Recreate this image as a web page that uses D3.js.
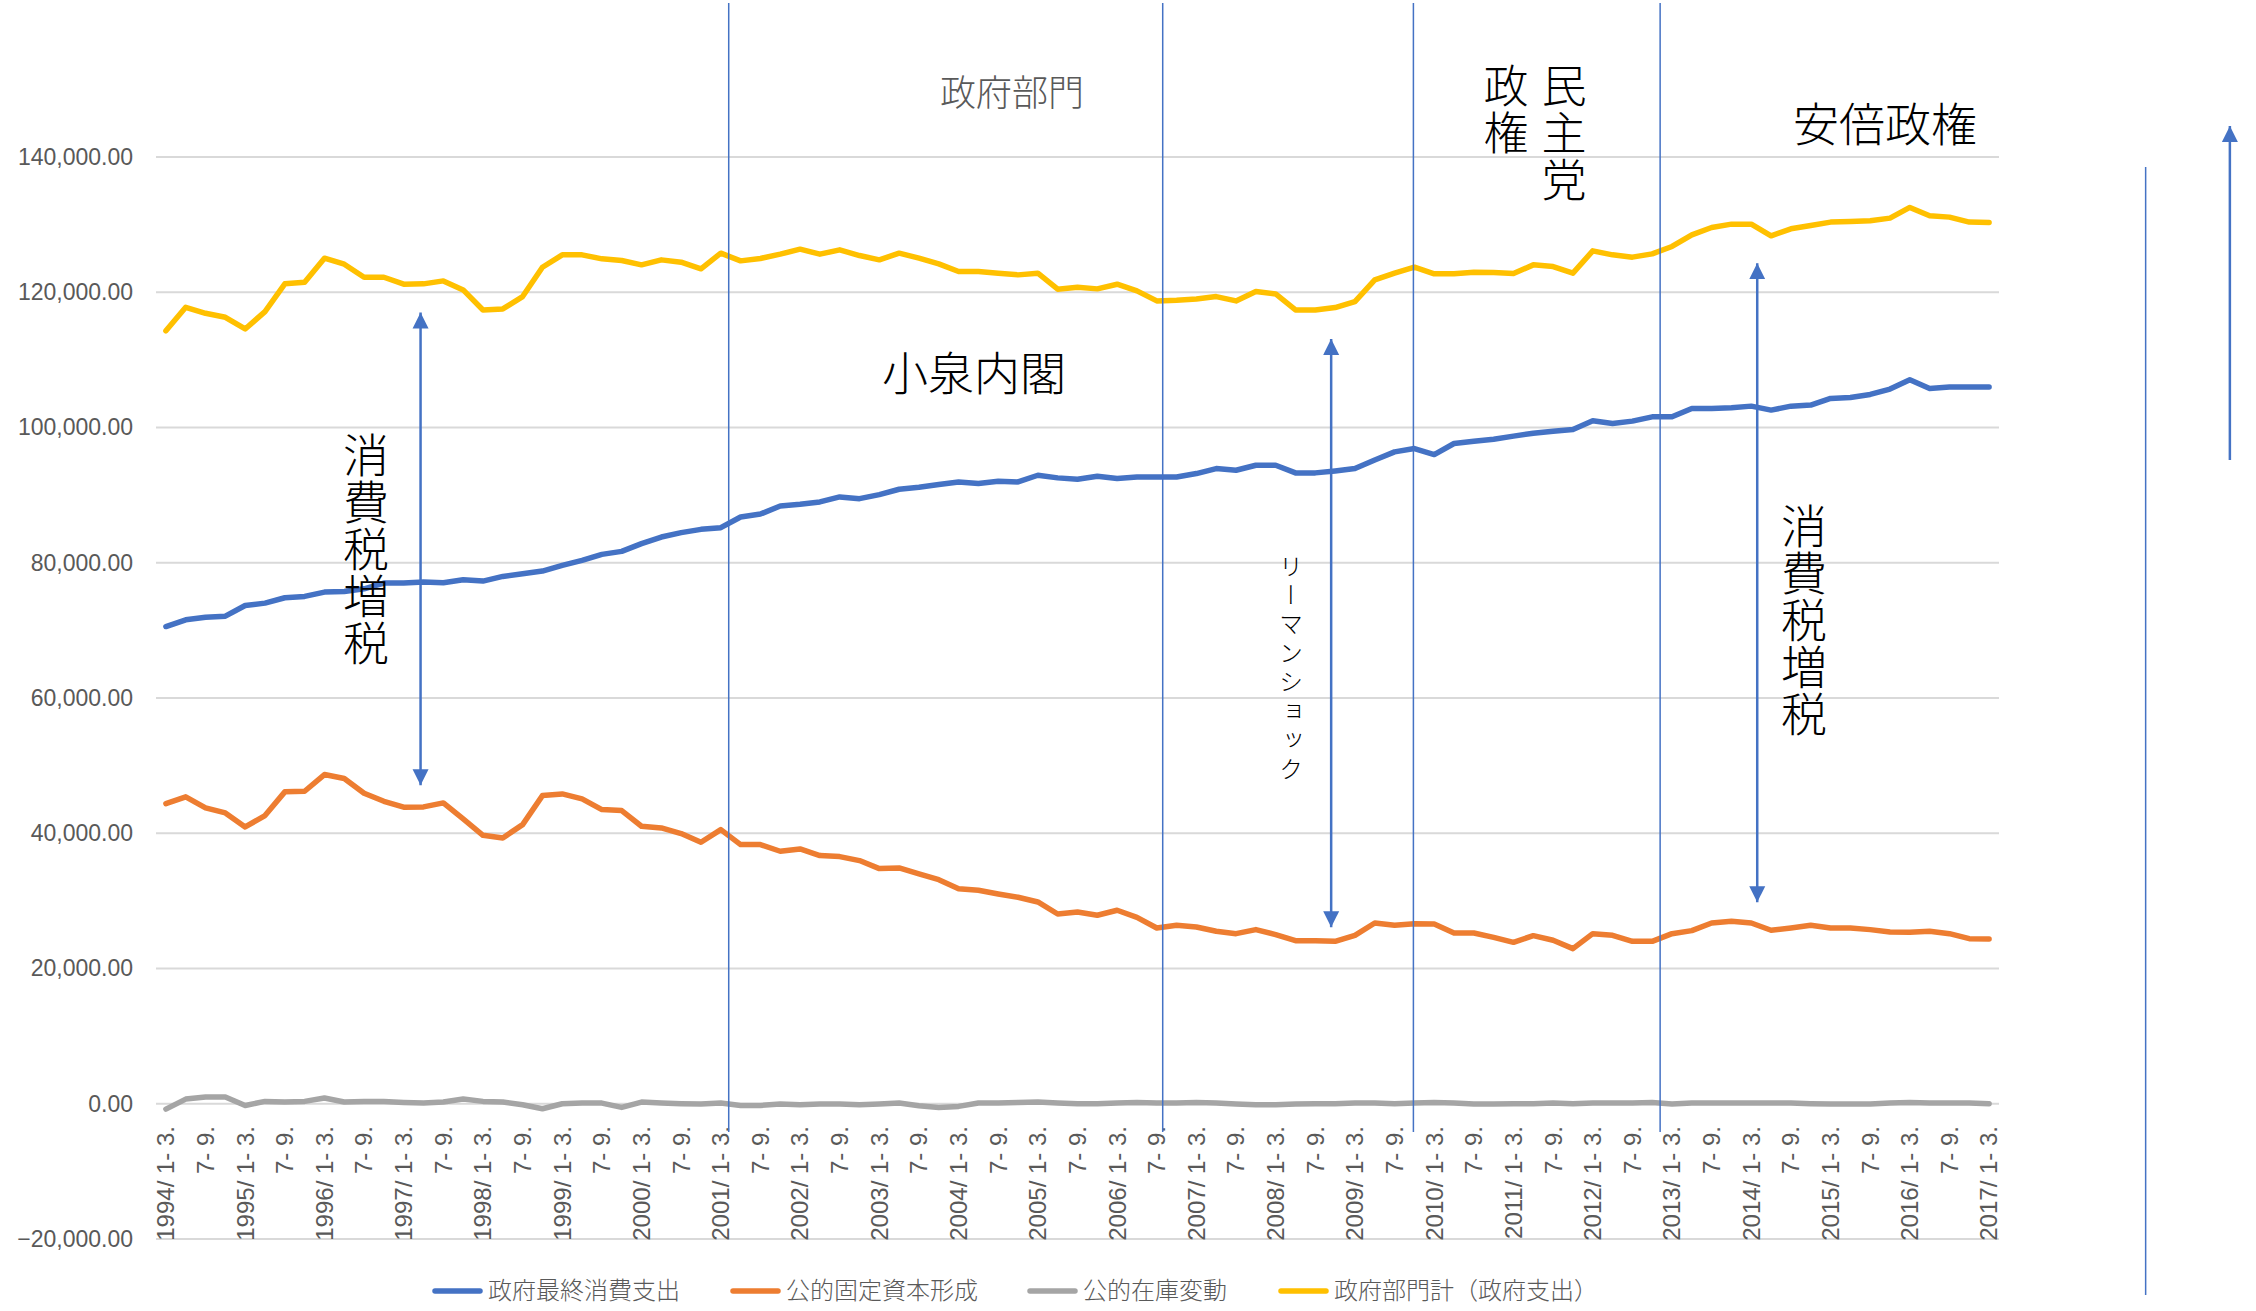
<!DOCTYPE html>
<html>
<head>
<meta charset="utf-8">
<script src="https://cdn.jsdelivr.net/npm/d3@7"></script>
<style>
  body { margin: 0; background: #fff; }
  svg { display: block; }
</style>
</head>
<body>
<div id="chart"></div>
<script>
// 政府部門 - quarterly data 1994 Q1 .. 2017 Q1

// Years and quarter names used for the category labels
let years = [1994, 1995, 1996, 1997, 1998, 1999, 2000, 2001, 2002, 2003, 2004, 2005,
             2006, 2007, 2008, 2009, 2010, 2011, 2012, 2013, 2014, 2015, 2016, 2017];
let quarterNames = ['1- 3.', '4- 6.', '7- 9.', '10-12.'];

// 政府最終消費支出
let govConsumption = [
    70570, 71560, 71950, 72100, 73680, 74030, 74820, 75020, 75660, 75760, 76150, 76990,
    76990, 77140, 77040, 77480, 77290, 77980, 78370, 78770, 79610, 80350, 81240, 81680,
    82820, 83800, 84450, 84940, 85190, 86770, 87200, 88400, 88640, 88990, 89730, 89480,
    90080, 90870, 91160, 91560, 91950, 91710, 92050, 91950, 92940, 92550, 92350, 92790,
    92450, 92690, 92690, 92690, 93190, 93930, 93680, 94420, 94420, 93290, 93290, 93580,
    93930, 95200, 96390, 96890, 96000, 97630, 97980, 98270, 98720, 99160, 99460, 99710,
    100990, 100600, 100940, 101580, 101580, 102820, 102820, 102920, 103160, 102570, 103160, 103310,
    104300, 104450, 104890, 105680, 107060, 105780, 105980, 105980, 105980
];

// 公的固定資本形成
let publicInvestment = [
    44390, 45380, 43750, 43010, 40940, 42610, 46120, 46210, 48680, 48090, 45920, 44730,
    43850, 43900, 44490, 42120, 39700, 39310, 41280, 45570, 45820, 45080, 43500, 43350,
    41040, 40790, 39950, 38670, 40540, 38320, 38320, 37340, 37680, 36700, 36550, 35960,
    34770, 34870, 33980, 33140, 31810, 31570, 31020, 30530, 29840, 28060, 28360, 27870,
    28610, 27570, 25990, 26390, 26140, 25500, 25150, 25750, 25010, 24120, 24120, 24020,
    24910, 26730, 26390, 26630, 26580, 25250, 25250, 24610, 23870, 24860, 24170, 22940,
    25150, 24910, 24020, 24020, 25150, 25600, 26730, 26980, 26730, 25650, 25990, 26390,
    25990, 25990, 25750, 25400, 25350, 25500, 25150, 24410, 24370
];

// 公的在庫変動
let publicInventory = [
    -790, 690, 990, 990, -250, 350, 250, 350, 840, 250, 350, 350,
    200, 100, 250, 690, 350, 250, -150, -740, 0, 100, 100, -540,
    250, 100, 0, -50, 100, -250, -250, -50, -150, -50, -50, -150,
    -50, 100, -300, -540, -390, 100, 100, 200, 250, 100, 0, 0,
    100, 200, 100, 100, 200, 100, -50, -150, -150, -50, 0, 0,
    100, 100, 0, 100, 200, 100, -50, -50, 0, 0, 100, 0,
    100, 100, 100, 200, -50, 100, 100, 100, 100, 100, 100, 0,
    -50, -50, -50, 100, 200, 100, 100, 100, 0
];

// 政府部門計（政府支出）
let govTotal = [
    114300, 117780, 116890, 116300, 114570, 117140, 121240, 121480, 125040, 124150, 122220, 122220,
    121190, 121240, 121680, 120350, 117380, 117530, 119360, 123700, 125530, 125530, 124940, 124690,
    124050, 124790, 124440, 123460, 125780, 124640, 125000, 125630, 126370, 125630, 126270, 125430,
    124790, 125780, 125040, 124200, 123060, 123060, 122820, 122570, 122820, 120450, 120740, 120500,
    121190, 120200, 118720, 118820, 119010, 119360, 118720, 120100, 119750, 117380, 117380, 117730,
    118620, 121830, 122820, 123700, 122720, 122720, 122970, 122920, 122770, 124050, 123800, 122820,
    126120, 125530, 125190, 125680, 126770, 128490, 129580, 130070, 130070, 128350, 129380, 129880,
    130370, 130470, 130570, 130960, 132540, 131310, 131110, 130370, 130320
];

let seriesNames = ['政府最終消費支出', '公的固定資本形成', '公的在庫変動', '政府部門計（政府支出）'];
let seriesValues = [govConsumption, publicInvestment, publicInventory, govTotal];
let seriesColors = ['#4472C4', '#ED7D31', '#A5A5A5', '#FFC000'];

// Y axis ticks
let yTicks = [-20000, 0, 20000, 40000, 60000, 80000, 100000, 120000, 140000];

// Annotations (position as quarter index, value)
let periodLines = [28.4, 50.3, 62.95, 75.4];
let arrows = [
    { at: 12.85, top: 117000, bottom: 47100 },
    { at: 58.8, top: 113100, bottom: 26100 },
    { at: 80.3, top: 124300, bottom: 29800 }
];

// Build category labels: "1994/ 1- 3.", "4- 6.", "7- 9.", "10-12.", ...
let categories = [];
years.forEach(function (yr) {
    quarterNames.forEach(function (q, k) {
        if (yr === 2017 && k > 0) return;
        categories.push(k === 0 ? yr + '/ ' + q : q);
    });
});

const W = 2256, H = 1311;

let svg = d3.select('#chart')
    .append('svg')
    .attr('width', W)
    .attr('height', H)
    .style('background', '#fff');

let x = d3.scalePoint()
    .domain(d3.range(categories.length))
    .range([156, 1999])
    .padding(0.5);

// fractional quarter index -> pixel
let xi = function (i) { return x(0) + i * x.step(); };

let y = d3.scaleLinear()
    .domain([-20000, 140000])
    .range([1239, 157]);

// Gridlines
svg.append('g')
    .selectAll('line')
    .data(yTicks)
    .enter().append('line')
    .attr('x1', 156)
    .attr('x2', 1999)
    .attr('y1', function (d) { return y(d); })
    .attr('y2', function (d) { return y(d); })
    .attr('stroke', '#d9d9d9')
    .attr('stroke-width', 2);

// Y axis labels
let yAxis = d3.axisLeft(y)
    .tickValues(yTicks)
    .tickSize(0)
    .tickPadding(0)
    .tickFormat(d3.format(',.2f'));

let gy = svg.append('g')
    .attr('transform', 'translate(133,0)')
    .call(yAxis);
gy.select('.domain').remove();
gy.selectAll('text')
    .attr('fill', '#595959')
    .style('font-family', '"Liberation Sans", Arial, sans-serif')
    .style('font-size', '23px');

// X axis labels (every other quarter, rotated)
let gx = svg.append('g');
gx.selectAll('text')
    .data(categories.map(function (c, i) { return { c: c, i: i }; })
        .filter(function (d) { return d.i % 2 === 0; }))
    .enter().append('text')
    .attr('transform', function (d) {
        return 'translate(' + x(d.i) + ',1126) rotate(-90)';
    })
    .attr('dy', '0.35em')
    .attr('text-anchor', 'end')
    .attr('fill', '#595959')
    .style('font-family', '"Liberation Sans", Arial, sans-serif')
    .style('font-size', '24px')
    .text(function (d) { return d.c; });

// Lines
let line = d3.line()
    .x(function (d, i) { return x(i); })
    .y(function (d) { return y(d); });

svg.append('g')
    .selectAll('path')
    .data(seriesValues)
    .enter().append('path')
    .attr('d', function (d) { return line(d); })
    .attr('fill', 'none')
    .attr('stroke', function (d, i) { return seriesColors[i]; })
    .attr('stroke-width', 5.5)
    .attr('stroke-linejoin', 'round')
    .attr('stroke-linecap', 'round');

// Legend
let legendX = [432, 730, 1027, 1278];
let lg = svg.append('g')
    .selectAll('g')
    .data(seriesNames)
    .enter().append('g')
    .attr('transform', function (d, i) { return 'translate(' + legendX[i] + ',1291)'; });

lg.append('line')
    .attr('x1', 3).attr('x2', 48)
    .attr('stroke', function (d, i) { return seriesColors[i]; })
    .attr('stroke-width', 5.5)
    .attr('stroke-linecap', 'round');

lg.append('text')
    .attr('x', 56)
    .attr('dy', '0.35em')
    .attr('fill', '#595959')
    .style('font-family', '"Noto Sans CJK JP", sans-serif')
    .style('font-weight', 300)
    .style('font-size', '24px')
    .text(function (d) { return d; });

// Annotations
let blue = '#4472C4';
let ann = svg.append('g');

let defs = svg.append('defs');
defs.append('marker')
    .attr('id', 'head')
    .attr('viewBox', '0 0 10 10')
    .attr('refX', 10).attr('refY', 5)
    .attr('markerWidth', 6.4).attr('markerHeight', 7)
    .attr('orient', 'auto-start-reverse')
    .attr('markerUnits', 'strokeWidth')
    .append('path')
    .attr('d', 'M0,0 L10,5 L0,10 z')
    .attr('fill', blue);

// period separator lines
ann.selectAll('line.period')
    .data(periodLines)
    .enter().append('line')
    .attr('class', 'period')
    .attr('x1', function (d) { return xi(d); })
    .attr('x2', function (d) { return xi(d); })
    .attr('y1', 3)
    .attr('y2', 1132)
    .attr('stroke', blue)
    .attr('stroke-width', 1.5);

// double headed arrows
ann.selectAll('line.arrow')
    .data(arrows)
    .enter().append('line')
    .attr('class', 'arrow')
    .attr('x1', function (d) { return xi(d.at); })
    .attr('x2', function (d) { return xi(d.at); })
    .attr('y1', function (d) { return y(d.top); })
    .attr('y2', function (d) { return y(d.bottom); })
    .attr('stroke', blue)
    .attr('stroke-width', 2.5)
    .attr('marker-start', 'url(#head)')
    .attr('marker-end', 'url(#head)');

// lines outside the plot on the right
ann.append('line')
    .attr('x1', xi(99.9)).attr('x2', xi(99.9))
    .attr('y1', 167).attr('y2', 1295)
    .attr('stroke', blue).attr('stroke-width', 1.5);

ann.append('line')
    .attr('x1', xi(104.15)).attr('x2', xi(104.15))
    .attr('y1', 460).attr('y2', 126)
    .attr('stroke', blue).attr('stroke-width', 2.5)
    .attr('marker-end', 'url(#head)');

// texts
let jp = '"Noto Sans CJK JP", sans-serif';

svg.append('text')
    .attr('x', 1012).attr('y', 93)
    .attr('dy', '0.35em')
    .attr('text-anchor', 'middle')
    .attr('fill', '#595959')
    .style('font-family', jp)
    .style('font-weight', 300)
    .style('font-size', '36px')
    .text('政府部門');

svg.append('text')
    .attr('x', 974).attr('y', 374)
    .attr('dy', '0.35em')
    .attr('text-anchor', 'middle')
    .attr('fill', '#000')
    .style('font-family', jp)
    .style('font-weight', 300)
    .style('font-size', '46px')
    .text('小泉内閣');

svg.append('text')
    .attr('x', 1885).attr('y', 125)
    .attr('dy', '0.35em')
    .attr('text-anchor', 'middle')
    .attr('fill', '#000')
    .style('font-family', jp)
    .style('font-weight', 300)
    .style('font-size', '46px')
    .text('安倍政権');

// vertical texts
let vtexts = [
    { t: '消費税増税', x: 366, y: 432, size: 46, sp: 1 },
    { t: '消費税増税', x: 1804, y: 503, size: 46, sp: 1 },
    { t: 'リーマンショック', x: 1291, y: 554, size: 24, sp: 5 },
    { t: '民主党', x: 1564, y: 63, size: 45, sp: 2 },
    { t: '政権', x: 1506, y: 63, size: 45, sp: 2 }
];

svg.append('g')
    .selectAll('text')
    .data(vtexts)
    .enter().append('text')
    .attr('x', function (d) { return d.x; })
    .attr('y', function (d) { return d.y; })
    .style('writing-mode', 'vertical-rl')
    .style('text-orientation', 'mixed')
    .attr('fill', '#000')
    .style('font-family', jp)
    .style('font-weight', 300)
    .style('font-size', function (d) { return d.size + 'px'; })
    .style('letter-spacing', function (d) { return d.sp + 'px'; })
    .text(function (d) { return d.t; });
</script>
</body>
</html>
